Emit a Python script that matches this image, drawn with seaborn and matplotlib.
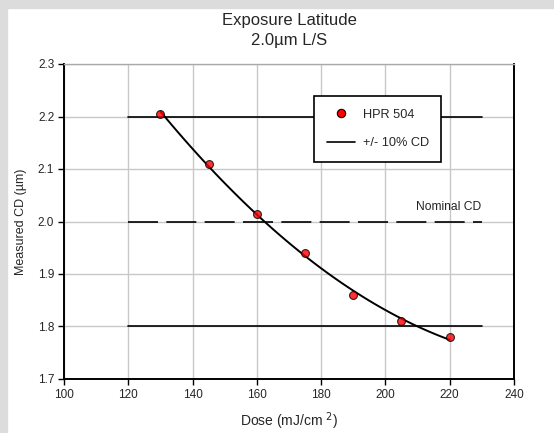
import matplotlib
matplotlib.use("Agg")
import matplotlib.pyplot as plt
import seaborn as sns
import numpy as np
import pandas as pd
from matplotlib.lines import Line2D
from matplotlib.patches import Rectangle

dose = [130, 145, 160, 175, 190, 205, 220]
cd = [2.205, 2.11, 2.015, 1.94, 1.86, 1.81, 1.78]
limit_x = [120, 230]
upper_cd = 2.2
lower_cd = 1.8
nominal_cd = 2.0

df = pd.DataFrame({"dose": dose, "cd": cd})

sns.set_style("white")
plt.rcParams["font.family"] = ["Liberation Sans", "DejaVu Sans"]

fig = plt.figure(figsize=(5.54, 4.33), dpi=100, facecolor="white")
ax = fig.add_axes([64/554, 1-379/433, 450/554, 315/433])

# gray frame strips
fig.patches.append(Rectangle((0, 0), 7/554, 1, transform=fig.transFigure, color="#dcdcdc", zorder=-10))
fig.patches.append(Rectangle((0, 1-8/433), 1, 8/433, transform=fig.transFigure, color="#dcdcdc", zorder=-10))

ax.set_xlim(100, 240)
ax.set_ylim(1.7, 2.3)
ax.set_xticks(np.arange(100, 241, 20))
ax.set_yticks(np.arange(1.7, 2.31, 0.1))
ax.set_yticklabels([f"{v:.1f}" for v in np.arange(1.7, 2.31, 0.1)])
ax.grid(True, color="#c8c8c8", linewidth=1.0)
ax.set_axisbelow(True)

ax.plot(limit_x, [upper_cd]*2, color="black", lw=1.2, zorder=2)
ax.plot(limit_x, [lower_cd]*2, color="black", lw=1.2, zorder=2)
ax.plot(limit_x, [nominal_cd]*2, color="black", lw=1.2, dashes=(18, 5), zorder=2)

sns.regplot(data=df, x="dose", y="cd", order=2, ci=None, truncate=True, ax=ax,
            scatter_kws=dict(s=32, color="red", edgecolor="black", linewidths=0.8, zorder=4),
            line_kws=dict(color="black", lw=1.4, zorder=3))

ax.text(219.8, 2.027, "Nominal CD", ha="center", va="center", fontsize=8.7)

for side in ["left", "bottom", "right"]:
    ax.spines[side].set_color("black")
    ax.spines[side].set_linewidth(1.4)
ax.spines["top"].set_color("#aaaaaa")
ax.spines["top"].set_linewidth(1.0)

ax.tick_params(axis="both", direction="out", length=4, width=1, color="black",
               labelsize=8.5, left=True, bottom=True, pad=3)

ax.set_xlabel("Dose (mJ/cm $^{2}$)", fontsize=10, labelpad=7)
ax.set_ylabel("Measured CD (µm)", fontsize=9, labelpad=8)

fig.text(289/554, 1-21/433, "Exposure Latitude", ha="center", va="center", fontsize=12)
fig.text(289/554, 1-40/433, "2.0µm L/S", ha="center", va="center", fontsize=12)

handles = [
    Line2D([], [], marker="o", ls="none", markerfacecolor="red", markeredgecolor="black", markersize=6, markeredgewidth=0.8),
    Line2D([], [], color="black", lw=1.2),
]
leg = ax.legend(handles, ["HPR 504", "+/- 10% CD"], loc="upper left",
                bbox_to_anchor=((314-64)/450, (379-96)/315), fontsize=9.2,
                frameon=True, fancybox=False, edgecolor="black", framealpha=1,
                borderpad=1.0, labelspacing=1.3, handlelength=2.2, handletextpad=0.6,
                borderaxespad=0)
leg.get_frame().set_linewidth(1.2)

fig.savefig("out.png", dpi=100, facecolor="white")
